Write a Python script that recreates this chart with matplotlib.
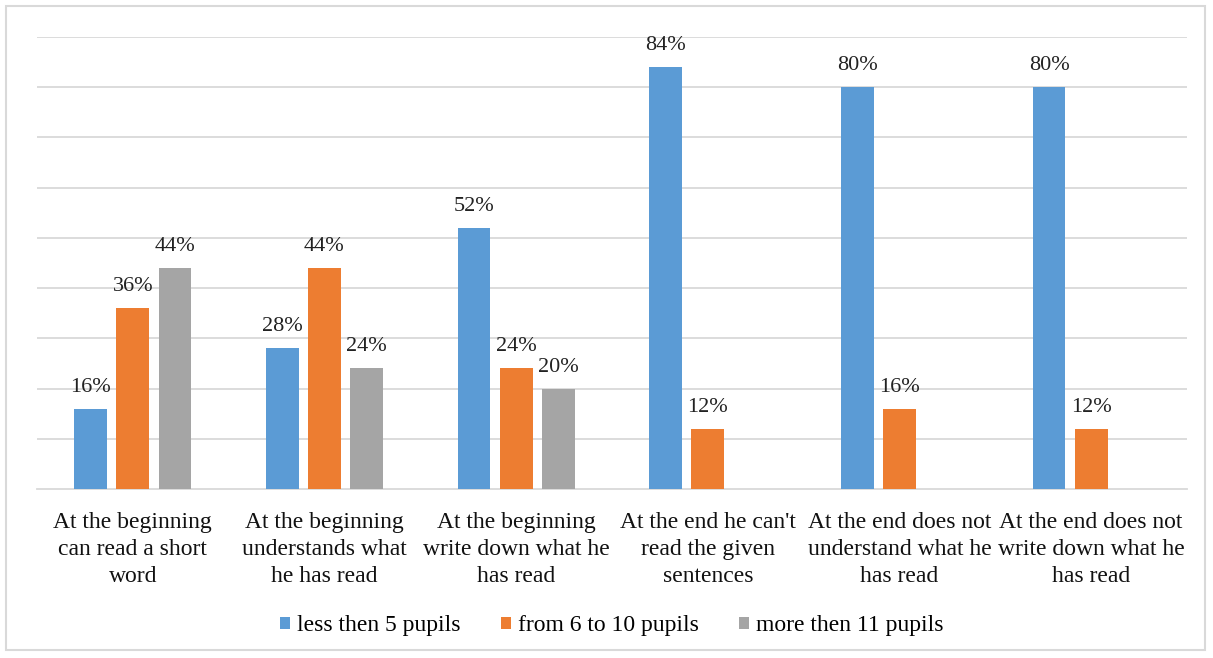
import matplotlib
matplotlib.use("Agg")
import matplotlib.pyplot as plt
from matplotlib.patches import Rectangle
import numpy as np

categories = [
    "At the beginning\ncan read a short\nword",
    "At the beginning\nunderstands what\nhe has read",
    "At the beginning\nwrite down what he\nhas read",
    "At the end he can't\nread the given\nsentences",
    "At the end does not\nunderstand what he\nhas read",
    "At the end does not\nwrite down what he\nhas read",
]
series_names = ["less then 5 pupils", "from 6 to 10 pupils", "more then 11 pupils"]
less_5 = [16, 28, 52, 84, 80, 80]
from_6_10 = [36, 44, 24, 12, 16, 12]
more_11 = [44, 24, 20, 0, 0, 0]
colors = ["#5B9BD5", "#ED7D31", "#A5A5A5"]

plt.rcParams["font.family"] = ["Liberation Serif", "DejaVu Serif"]

fig = plt.figure(figsize=(12.13, 6.58), dpi=100)
fig.patch.set_facecolor("white")
fig.patches.append(Rectangle((6 / 1213, 8 / 658), 1199 / 1213, 644 / 658,
                             transform=fig.transFigure, fill=False,
                             edgecolor="#D9D9D9", linewidth=1.5))

ax = fig.add_axes([37 / 1213, 1 - 489 / 658, 1150 / 1213, 452 / 658])
x = np.arange(len(categories))
width = 0.172
offset = 0.22

for i, (name, vals, col) in enumerate(zip(series_names, [less_5, from_6_10, more_11], colors)):
    pos = x + (i - 1) * offset
    ax.bar(pos, vals, width, color=col, label=name, zorder=3)
    for p, v in zip(pos, vals):
        if v > 0:
            ax.text(p, v + 2.4, f"{v}%", ha="center", va="bottom",
                    fontsize=16, color="#222222")

ax.set_xlim(-0.5, len(categories) - 0.5)
ax.set_ylim(0, 90)
ax.set_yticks(np.arange(10, 91, 10))
ax.yaxis.grid(True, color="#D9D9D9", linewidth=1.3, zorder=0)
ax.tick_params(axis="y", left=False, labelleft=False)
ax.tick_params(axis="x", bottom=False, pad=13)
ax.set_xticks(x)
ax.set_xticklabels(categories, fontsize=17, linespacing=1.37, color="#111111")
for s in ["top", "left", "right"]:
    ax.spines[s].set_visible(False)
ax.spines["bottom"].set_color("#D9D9D9")
ax.spines["bottom"].set_linewidth(1.3)

ax.legend(loc="center", bbox_to_anchor=(0.5, -0.303), ncol=3, frameon=False,
          fontsize=17, handlelength=0.42, handleheight=0.42, handletextpad=0.3,
          columnspacing=1.7)

fig.savefig("out.png", dpi=100)
